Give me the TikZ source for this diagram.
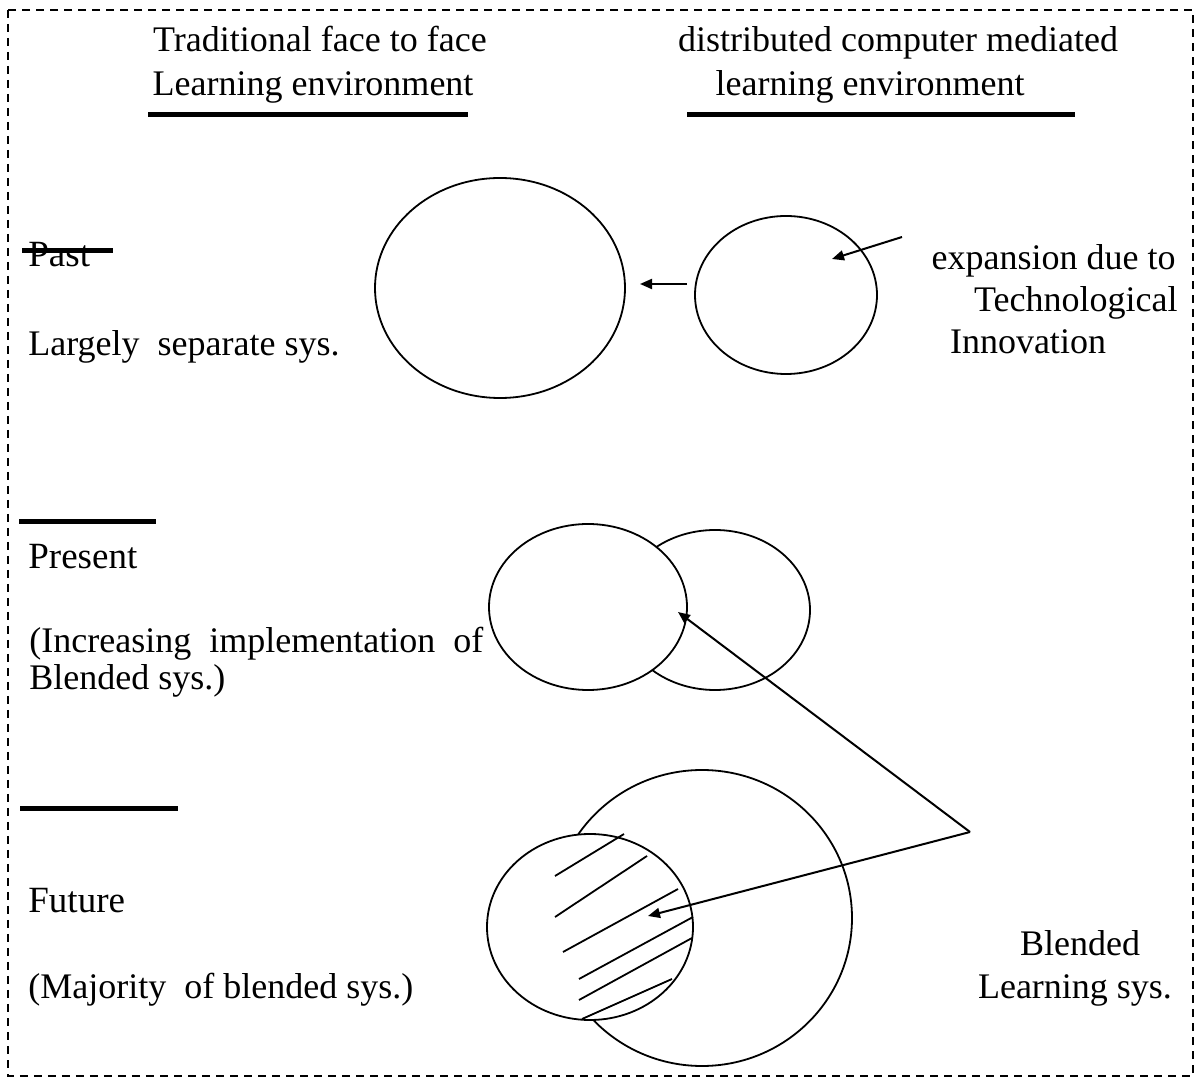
\documentclass[tikz,border=0pt]{standalone}
\usepackage{fontspec}
\setmainfont{Liberation Serif}
\usetikzlibrary{arrows.meta}
\tikzset{
  txt/.style={inner sep=0pt, font=\fontsize{#1}{20}\selectfont},
  txt/.default=18,
  bar/.style={line width=2.5pt},
  ring/.style={draw, line width=0.9pt},
  arr/.style={-{Triangle[length=6pt,width=5pt]}, line width=1pt},
  hatch/.style={line width=0.9pt},
}
\begin{document}
\begin{tikzpicture}[x=0.5pt,y=-0.5pt]
    \useasboundingbox (0,0) rectangle (1195,1079);
    % dashed frame
    \draw[dash pattern=on 4pt off 3pt, line width=1pt] (8,10) rectangle (1193,1076);

    % column heads
    \node[txt, anchor=base] (tradA) at (320,52) {Traditional face to face};
    \node[txt, anchor=base] (tradB) at (313,96) {Learning environment};
    \draw[bar] (148,115) -- (468,115);
    \node[txt, anchor=base] (distA) at (898,52) {distributed computer mediated};
    \node[txt, anchor=base] (distB) at (870,96) {learning environment};
    \draw[bar] (687,115) -- (1075,115);

    % past
    \node[txt=18.5, anchor=base west] (past) at (28,267) {Past};
    \draw[bar] (22,251) -- (113,251);
    \node[txt, anchor=base west] (pastnote) at (28,356) {Largely\ \ separate sys.};
    \draw[ring] (500,288) ellipse (125 and 110);
    \draw[ring] (786,295) ellipse (91 and 79);
    \coordinate (gapR) at (687,284);
    \coordinate (gapL) at (640,284);
    \draw[arr] (gapR) -- (gapL);
    \node[txt, anchor=base east] (expA) at (1176,270) {expansion due to};
    \node[txt, anchor=base east] (expB) at (1178,312) {Technological};
    \node[txt, anchor=base] (expC) at (1028,354) {Innovation};
    \coordinate (expTail) at (902,237);
    \coordinate (expTip) at (832,259);
    \draw[arr] (expTail) -- (expTip);

    % present
    \draw[bar] (19,522) -- (156,522);
    \node[txt=18.5, anchor=base west] (present) at (28,569) {Present};
    \node[txt, anchor=base west] (presA) at (29,653) {(Increasing\ \ implementation\ \ of};
    \node[txt, anchor=base west] (presB) at (29,690) {Blended sys.)};
    \draw[ring] (715,610) ellipse (95 and 80);
    \draw[ring, fill=white] (588,607) ellipse (99 and 83);

    % future
    \draw[bar] (20,809) -- (178,809);
    \node[txt=18.5, anchor=base west] (future) at (28,913) {Future};
    \node[txt, anchor=base west] (futA) at (28,998) {(Majority\ \ of blended sys.)};
    \draw[ring] (702,918) ellipse (150 and 148);
    \draw[ring, fill=white] (590,927) ellipse (103 and 93);
    \foreach \xa/\ya/\xb/\yb in {555/876/624/834, 555/917/647/856, 563/952/678/889,
                                 579/979/693/917, 579/1000/692/938, 582/1019/672/979}
        \draw[hatch] (\xa,\ya) -- (\xb,\yb);

    % blended label and pointers
    \node[txt, anchor=base] (blendA) at (1080,955) {Blended};
    \node[txt, anchor=base] (blendB) at (1075,998) {Learning sys.};
    \coordinate (apex) at (970,832);
    \coordinate (presTip) at (678,612);
    \coordinate (futTip) at (648,916);
    \draw[arr] (apex) -- (presTip);
    \draw[arr] (apex) -- (futTip);
\end{tikzpicture}
\end{document}
